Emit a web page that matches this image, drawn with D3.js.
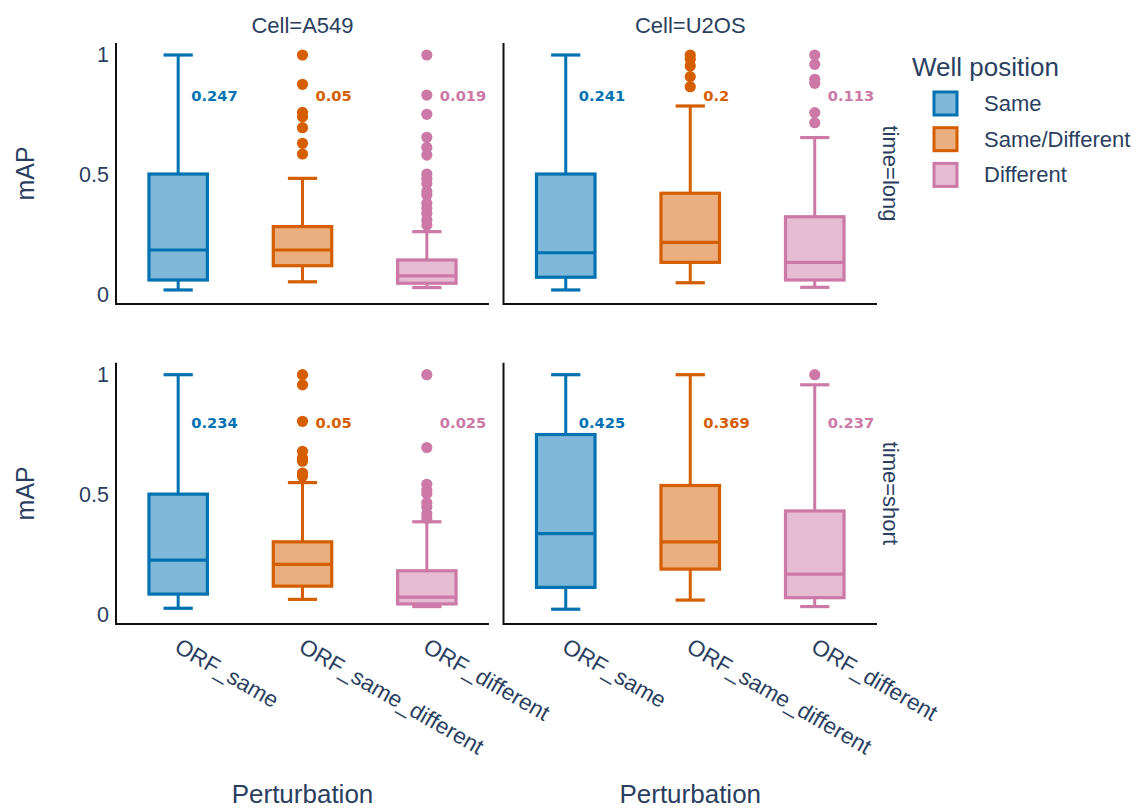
<!DOCTYPE html>
<html>
<head>
<meta charset="utf-8">
<script src="https://cdn.jsdelivr.net/npm/d3@7"></script>
<style>
  body { margin: 0; background: #fff; }
  svg { display: block; }
  text { font-family: "Liberation Sans", Arial, sans-serif; }
</style>
</head>
<body>
<svg id="chart" width="1137" height="810"></svg>
<script>
// ---------- data ----------
const cells = ["A549", "U2OS"];
const times = ["long", "short"];
const perturbations = ["ORF_same", "ORF_same_different", "ORF_different"];
const wellPositions = ["Same", "Same/Different", "Different"];
const colors = ["#0072B2", "#D55E00", "#CC79A7"];
const yTicks = [0, 0.5, 1];

// indexed [time][cell][wellPosition]
const lowerWhisker = [
  [[0.021, 0.055, 0.031], [0.021, 0.051, 0.032]],
  [[0.028, 0.065, 0.035], [0.024, 0.062, 0.035]]
];
const q1Values = [
  [[0.0625, 0.122, 0.049], [0.074, 0.136, 0.0625]],
  [[0.087, 0.120, 0.046], [0.115, 0.191, 0.072]]
];
const medianValues = [
  [[0.1875, 0.1875, 0.080], [0.176, 0.219, 0.136]],
  [[0.2285, 0.2105, 0.074], [0.339, 0.3045, 0.170]]
];
const q3Values = [
  [[0.504, 0.285, 0.146], [0.504, 0.424, 0.326]],
  [[0.503, 0.3045, 0.184], [0.751, 0.539, 0.433]]
];
const upperWhisker = [
  [[1.0, 0.486, 0.264], [1.0, 0.7875, 0.656]],
  [[1.0, 0.551, 0.388], [1.0, 1.0, 0.958]]
];
const outliers = [
  [
    [[], [1.0, 0.878, 0.761, 0.743, 0.697, 0.632, 0.5875],
     [1.0, 0.833, 0.753, 0.657, 0.615, 0.583, 0.504, 0.486, 0.465, 0.431, 0.417, 0.382, 0.361, 0.340, 0.3125, 0.292]],
    [[], [1.0, 0.982, 0.954, 0.910, 0.868],
     [1.0, 0.961, 0.899, 0.882, 0.760, 0.718]]
  ],
  [
    [[], [1.0, 0.958, 0.806, 0.681, 0.654, 0.640, 0.591, 0.577],
     [1.0, 0.697, 0.544, 0.519, 0.505, 0.467, 0.450, 0.422, 0.402]],
    [[], [], [1.0]]
  ]
];
const annotationTexts = [
  [["0.247", "0.05", "0.019"], ["0.241", "0.2", "0.113"]],
  [["0.234", "0.05", "0.025"], ["0.425", "0.369", "0.237"]]
];
const annotationY = [0.83, 0.80];

// ---------- layout ----------
const svg = d3.select("#chart");
const textColor = "#2a3f5f";
const colX = [[116, 489], [503.5, 877]];
const rowY = [[43, 304], [362.7, 624]];
const yDomain = [-0.0375, 1.05];

times.forEach((time, ti) => {
  const y = d3.scaleLinear().domain(yDomain).range([rowY[ti][1], rowY[ti][0]]);
  cells.forEach((cell, ci) => {
    const x = d3.scaleBand().domain(perturbations).range(colX[ci]);
    const g = svg.append("g");
    const bw = x.bandwidth() * 0.47;
    const cw = bw / 2;

    wellPositions.forEach((wp, k) => {
      const cx = x(perturbations[k]) + x.bandwidth() / 2;
      const col = colors[k];
      const bg = g.append("g");
      // whiskers
      bg.append("line").attr("x1", cx).attr("x2", cx)
        .attr("y1", y(q3Values[ti][ci][k])).attr("y2", y(upperWhisker[ti][ci][k]))
        .attr("stroke", col).attr("stroke-width", 3);
      bg.append("line").attr("x1", cx).attr("x2", cx)
        .attr("y1", y(q1Values[ti][ci][k])).attr("y2", y(lowerWhisker[ti][ci][k]))
        .attr("stroke", col).attr("stroke-width", 3);
      [upperWhisker, lowerWhisker].forEach(arr => {
        bg.append("line").attr("x1", cx - cw / 2).attr("x2", cx + cw / 2)
          .attr("y1", y(arr[ti][ci][k])).attr("y2", y(arr[ti][ci][k]))
          .attr("stroke", col).attr("stroke-width", 3.2);
      });
      // box
      bg.append("rect")
        .attr("x", cx - bw / 2).attr("width", bw)
        .attr("y", y(q3Values[ti][ci][k]))
        .attr("height", y(q1Values[ti][ci][k]) - y(q3Values[ti][ci][k]))
        .attr("fill", col).attr("fill-opacity", 0.5)
        .attr("stroke", col).attr("stroke-width", 3.2);
      bg.append("line").attr("x1", cx - bw / 2).attr("x2", cx + bw / 2)
        .attr("y1", y(medianValues[ti][ci][k])).attr("y2", y(medianValues[ti][ci][k]))
        .attr("stroke", col).attr("stroke-width", 3.2);
      // outliers
      bg.selectAll("circle.out").data(outliers[ti][ci][k]).enter().append("circle")
        .attr("cx", cx).attr("cy", d => y(d)).attr("r", 5.6).attr("fill", col);
      // annotation
      bg.append("text")
        .attr("x", cx + 13).attr("y", y(annotationY[ti]))
        .attr("dominant-baseline", "central")
        .attr("fill", col)
        .style("font-family", "'DejaVu Sans', sans-serif")
        .style("font-weight", "bold")
        .style("font-size", "14.7px")
        .text(annotationTexts[ti][ci][k]);
    });

    // axes
    g.append("line").attr("x1", colX[ci][0]).attr("x2", colX[ci][1])
      .attr("y1", rowY[ti][1]).attr("y2", rowY[ti][1])
      .attr("stroke", "#111").attr("stroke-width", 2);
    g.append("line").attr("x1", colX[ci][0]).attr("x2", colX[ci][0])
      .attr("y1", rowY[ti][0]).attr("y2", rowY[ti][1] + 1)
      .attr("stroke", "#111").attr("stroke-width", 2);

    if (ci === 0) {
      yTicks.forEach(t => {
        g.append("text").attr("x", colX[ci][0] - 7).attr("y", y(t))
          .attr("text-anchor", "end").attr("dominant-baseline", "central")
          .attr("fill", textColor).style("font-size", "21.5px")
          .text(t);
      });
    }
    if (ti === 1) {
      perturbations.forEach(p => {
        const tx = x(p) + x.bandwidth() / 2 - 5;
        const ty = rowY[ti][1] + 27;
        g.append("text")
          .attr("transform", `translate(${tx},${ty}) rotate(30)`)
          .attr("text-anchor", "start")
          .attr("fill", textColor).style("font-size", "22.5px")
          .text(p);
      });
      g.append("text")
        .attr("x", (colX[ci][0] + colX[ci][1]) / 2).attr("y", 803)
        .attr("text-anchor", "middle").attr("fill", textColor)
        .style("font-size", "26px").text("Perturbation");
    }
    if (ti === 0) {
      g.append("text")
        .attr("x", (colX[ci][0] + colX[ci][1]) / 2).attr("y", 33)
        .attr("text-anchor", "middle").attr("fill", textColor)
        .style("font-size", "22px").text("Cell=" + cell);
    }
  });
  // row labels
  const cy = (rowY[ti][0] + rowY[ti][1]) / 2;
  svg.append("text")
    .attr("transform", `translate(25,${cy}) rotate(-90)`)
    .attr("text-anchor", "middle").attr("dominant-baseline", "central")
    .attr("fill", textColor).style("font-size", "25px").text("mAP");
  svg.append("text")
    .attr("transform", `translate(890,${cy}) rotate(90)`)
    .attr("text-anchor", "middle").attr("dominant-baseline", "central")
    .attr("fill", textColor).style("font-size", "22px").text("time=" + time);
});

// legend
const lg = svg.append("g");
lg.append("text").attr("x", 912).attr("y", 76)
  .attr("fill", textColor).style("font-size", "26px").text("Well position");
wellPositions.forEach((wp, k) => {
  const cy = 103.5 + k * 35.7;
  lg.append("rect").attr("x", 934).attr("y", cy - 11.5).attr("width", 23).attr("height", 23)
    .attr("fill", colors[k]).attr("fill-opacity", 0.5)
    .attr("stroke", colors[k]).attr("stroke-width", 3);
  lg.append("text").attr("x", 984).attr("y", cy)
    .attr("dominant-baseline", "central")
    .attr("fill", textColor).style("font-size", "22px").text(wp);
});
</script>
</body>
</html>
